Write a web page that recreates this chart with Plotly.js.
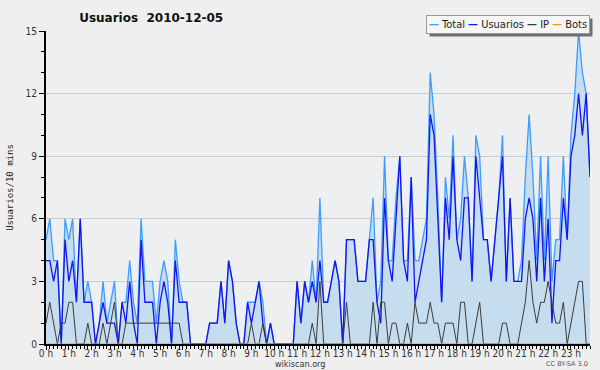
<!DOCTYPE html>
<html>
<head>
<meta charset="utf-8">
<script src="https://cdn.plot.ly/plotly-3.0.1.min.js"></script>
<style>
  html, body { margin: 0; padding: 0; background: #efefef; }
  #chart { width: 600px; height: 370px; outline: 1px solid #a8a8a8; outline-offset: -1px; }
</style>
</head>
<body>
<div id="chart"></div>
<script>
// 10-minute slots of 2010-12-05 (144 slots), x in hours
const slotsPerHour = 6;
const seriesNames = ['Total', 'Usuarios', 'IP', 'Bots'];
const seriesColors = ['#3d9cff', '#1414f0', '#3c3c3c', '#ff9900'];
const total = [5,6,4,4,0,6,5,6,2,6, 2,3,2,0,1,3,1,2,3,0, 2,2,4,2,1,6,3,3,3,1,
  3,4,3,0,5,3,2,2,0,0, 0,0,0,1,1,1,3,1,4,3, 1,0,0,2,2,2,3,2,0,1,
  0,0,0,0,0,0,3,1,3,2, 4,2,7,2,2,3,4,3,0,5, 5,5,3,3,3,5,7,2,3,9,
  4,4,7,9,4,4,8,4,4,5, 6,13,11,7,2,8,6,10,5,6, 9,7,3,10,9,5,5,3,5,7,
  10,3,7,3,3,4,8,11,8,4, 9,4,9,3,5,5,9,5,10,12, 15,13,12,8];
const usuarios = [4,4,3,4,0,5,3,4,2,6, 2,2,2,0,1,2,1,1,1,0, 2,1,3,1,0,5,2,2,2,0,
  2,3,2,0,4,2,2,2,0,0, 0,0,0,1,1,1,3,1,4,3, 1,0,0,2,1,2,3,1,0,1,
  0,0,0,0,0,0,3,1,3,2, 3,2,4,2,2,3,4,3,0,5, 5,5,3,3,3,5,5,2,1,7,
  4,3,6,9,4,3,8,2,3,4, 5,11,10,6,2,7,5,9,5,4, 7,7,3,9,7,5,5,3,5,7,
  9,3,7,3,3,3,6,7,6,3, 7,3,6,1,4,4,7,5,9,10, 12,10,12,8];
const ip = [1,2,1,0,1,1,2,2,0,0, 0,1,0,0,0,1,0,1,2,0, 0,1,1,1,1,1,1,1,1,1,
  1,1,1,1,1,1,0,0,0,0, 0,0,0,0,0,0,0,0,0,0, 0,0,0,0,1,0,0,1,0,0,
  0,0,0,0,0,0,0,0,0,0, 1,0,3,0,0,0,0,0,0,2, 0,0,0,0,0,0,2,0,2,2,
  0,1,1,0,0,1,0,2,1,1, 1,2,1,1,0,1,1,1,0,2, 2,0,0,1,2,0,0,0,0,0,
  1,1,0,0,0,1,2,4,2,1, 2,2,3,2,1,1,2,0,1,2, 3,3,0,0];
const bots = new Array(total.length).fill(0);
const hours = total.map((_, i) => i / slotsPerHour);

const font = 'DejaVu Sans, Arial, sans-serif';
const condensed = 'DejaVu Sans Condensed, DejaVu Sans, Arial, sans-serif';

const traces = [
  { name: seriesNames[0], x: hours, y: total, type: 'scatter', mode: 'lines',
    line: { color: seriesColors[0], width: 1.3 }, fill: 'tozeroy', fillcolor: '#c6dcef' },
  { name: seriesNames[1], x: hours, y: usuarios, type: 'scatter', mode: 'lines',
    line: { color: seriesColors[1], width: 1.3 } },
  { name: seriesNames[2], x: hours, y: ip, type: 'scatter', mode: 'lines',
    line: { color: seriesColors[2], width: 1 } },
  { name: seriesNames[3], x: hours, y: bots, type: 'scatter', mode: 'lines',
    line: { color: seriesColors[3], width: 1 } }
];

// compact legend (line sample + name for each series) as one boxed text
const legendText = seriesNames.map((n, k) =>
  '<span style="color:' + seriesColors[k] + '"><b>\u2014</b></span> ' + n).join(' ');

const layout = {
  width: 600, height: 370,
  margin: { l: 46, r: 10, t: 31, b: 26 },
  paper_bgcolor: '#efefef',
  plot_bgcolor: '#edeff1',
  font: { family: font, size: 10, color: '#222' },
  title: { text: 'Usuarios\u00a0\u00a02010-12-05', x: 0.252, xanchor: 'center', xref: 'container',
    y: 0.951, yanchor: 'middle', yref: 'container',
    font: { family: font, size: 12, weight: 'bold', color: '#111' } },
  showlegend: false,
  xaxis: {
    range: [0, (total.length - 1) / slotsPerHour],
    tickmode: 'linear', tick0: 0, dtick: 1, ticksuffix: ' h', tickangle: 0,
    ticks: 'outside', ticklen: 4, tickcolor: '#000', tickwidth: 1, ticklabelstandoff: -5,
    minor: { tickmode: 'linear', tick0: 0, dtick: 1 / slotsPerHour, ticks: 'outside', ticklen: 3, tickcolor: '#000', showgrid: false },
    showgrid: false, zeroline: false, showline: true, linecolor: '#000', linewidth: 2,
    tickfont: { family: condensed, size: 10, color: '#333' }
  },
  yaxis: {
    range: [0, 15], tickmode: 'linear', tick0: 0, dtick: 3,
    ticks: 'outside', ticklen: 5, tickcolor: '#000',
    minor: { tickmode: 'linear', tick0: 0, dtick: 1, ticks: 'outside', ticklen: 3, tickcolor: '#000', showgrid: false },
    showgrid: true, gridcolor: '#cdcdcd', gridwidth: 1,
    zeroline: false, showline: true, linecolor: '#000', linewidth: 2,
    tickfont: { family: condensed, size: 10, color: '#333' },
    title: { text: 'Usuarios/10 mins', standoff: 10,
      font: { family: 'DejaVu Sans Mono, monospace', size: 9, color: '#222' } }
  },
  annotations: [
    { text: legendText, xref: 'paper', yref: 'paper', x: 1, y: 1.051, xanchor: 'right', yanchor: 'top',
      showarrow: false, borderpad: 2, bgcolor: '#f6f6f6', bordercolor: '#9a9a9a', borderwidth: 1,
      font: { family: condensed, size: 11, color: '#222' } },
    { text: 'wikiscan.org', xref: 'paper', yref: 'paper', x: 0.467, y: -0.063,
      xanchor: 'center', yanchor: 'middle', showarrow: false,
      font: { family: condensed, size: 9, color: '#333' } },
    { text: 'CC BY-SA 3.0', xref: 'paper', yref: 'paper', x: 1, y: -0.063,
      xanchor: 'right', yanchor: 'middle', showarrow: false,
      font: { family: font, size: 6.5, color: '#555' } }
  ]
};

Plotly.newPlot('chart', traces, layout, { displayModeBar: false, staticPlot: true }).then(gd => {
  // drop shadow behind the legend box, sized from the rendered box
  const rect = gd.querySelector('.annotation[data-index="0"] rect.bg');
  if (!rect) return;
  const r = rect.getBoundingClientRect();
  const g = gd.getBoundingClientRect();
  const s = gd._fullLayout._size;
  const off = 3;
  const toX = px => (px - g.left - s.l) / s.w;
  const toY = py => 1 - (py - g.top - s.t) / s.h;
  return Plotly.relayout(gd, { shapes: [{
    type: 'rect', xref: 'paper', yref: 'paper', layer: 'above',
    x0: toX(r.left + off), x1: toX(r.right + off), y0: toY(r.bottom + off), y1: toY(r.top + off),
    fillcolor: '#707070', line: { width: 0 }
  }] });
});
</script>
</body>
</html>
